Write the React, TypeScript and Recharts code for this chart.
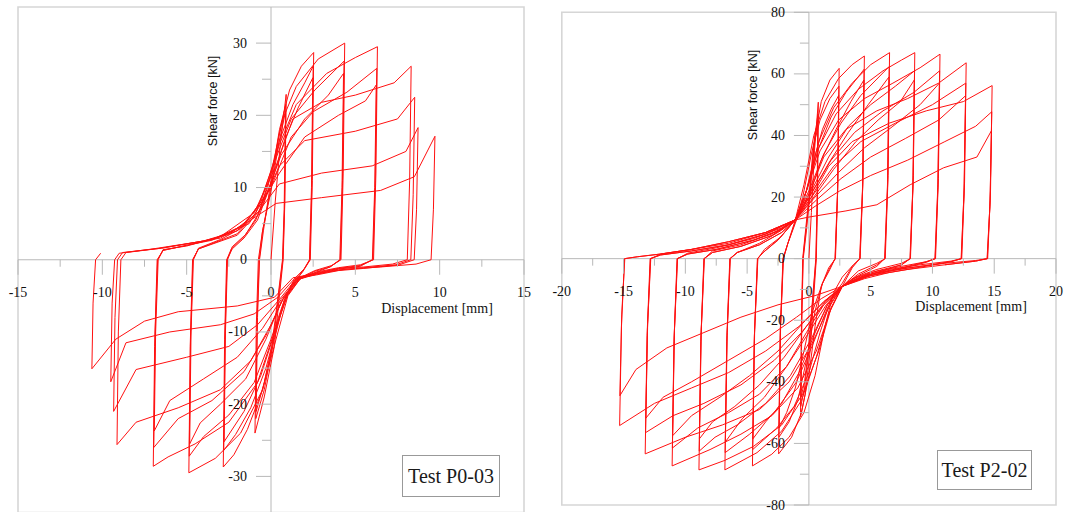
import React from 'react'
import {
  LineChart,
  Line,
  XAxis,
  YAxis,
  ReferenceLine,
  ReferenceArea,
  ReferenceDot,
} from 'recharts'

type Pt = [number, number]

// ---- Test P0-03 : displacement [mm], shear force [kN], one array per cycle ----
const p003c01: Pt[] = [[0, 0], [0.25, 8], [0.55, 16], [0.9, 22.9], [0.82, 8], [0.72, 0], [0.5, -5], [0.2, -12], [-0.4, -19], [-0.95, -24], [-0.87, -9], [-0.75, 0]]
const p003c02: Pt[] = [[-0.5, 4], [0, 10], [0.45, 17], [0.88, 21.5], [0.8, 7], [0.7, 0], [0.45, -5], [0.1, -12], [-0.4, -18], [-0.9, -22], [-0.82, -8], [-0.7, 0]]
const p003c03: Pt[] = [[-0.5, 4], [0, 9.5], [0.45, 16], [0.86, 20.5], [0.78, 7], [0.68, 0], [0.42, -5], [0.05, -12], [-0.4, -17], [-0.88, -21], [-0.8, -8], [-0.68, 0]]
const p003c04: Pt[] = [[-0.45, 4], [0, 11], [0.5, 18], [1.1, 23.5], [1.8, 26.8], [2.53, 28.7], [2.45, 11], [2.33, 0], [2, -1.2], [1.4, -2.6], [0.8, -5.5], [0.2, -11], [-0.5, -18], [-1.4, -23.5], [-2.2, -27], [-2.83, -28.7], [-2.75, -11], [-2.63, 0]]
const p003c05: Pt[] = [[-2.35, 1.5], [-1.6, 3.2], [-0.9, 5.5], [-0.2, 10], [0.5, 16.5], [1.3, 21.5], [2, 24.5], [2.5, 26.8], [2.42, 10], [2.3, 0], [1.9, -1.5], [1.2, -3.5], [0.5, -8], [-0.3, -15], [-1.2, -20.5], [-2.1, -24.2], [-2.8, -26.4], [-2.72, -10], [-2.6, 0]]
const p003c06: Pt[] = [[-2.3, 1.5], [-1.6, 3], [-0.8, 5.5], [0, 10.5], [0.8, 16.5], [1.6, 21], [2.48, 25.2], [2.4, 10], [2.28, 0], [1.9, -1.6], [1.1, -4], [0.3, -9.5], [-0.6, -16], [-1.6, -21], [-2.78, -25.2], [-2.7, -10], [-2.58, 0]]
const p003c07: Pt[] = [[-2.3, 1.8], [-1.5, 3.5], [-0.7, 6.5], [0, 12], [0.7, 19.5], [1.5, 24], [2.8, 27.8], [4.37, 30], [4.28, 12], [4.15, 0], [3.6, -0.8], [2.6, -1.5], [1.8, -2.4], [1, -5], [0.3, -11], [-0.5, -18], [-1.8, -24], [-3.3, -27.5], [-4.87, -29.5], [-4.79, -12], [-4.65, 0]]
const p003c08: Pt[] = [[-4.3, 1.5], [-3.2, 2.5], [-2, 3.6], [-0.9, 6.5], [0.2, 13.5], [1.2, 19.5], [2.6, 23.5], [4.33, 27.5], [4.24, 11], [4.11, 0], [3.5, -1], [2.6, -1.6], [1.7, -2.6], [0.8, -5.5], [0, -11], [-1, -17], [-2.5, -21.5], [-4, -24.5], [-4.85, -27.2], [-4.77, -11], [-4.63, 0]]
const p003c09: Pt[] = [[-4.3, 1.5], [-3.2, 2.4], [-2, 3.4], [-0.6, 7], [0.6, 14.5], [2, 19.5], [3.4, 22.8], [4.3, 25.8], [4.21, 10], [4.08, 0], [3.5, -1], [2.6, -1.8], [1.6, -2.8], [0.6, -5.8], [-0.3, -11], [-1.5, -16.5], [-3, -20], [-4.2, -22.6], [-4.82, -25.5], [-4.74, -10], [-4.6, 0]]
const p003c10: Pt[] = [[-4.3, 1.6], [-3, 2.8], [-1.8, 4.3], [-0.6, 8], [0.5, 16], [1.5, 21.5], [3.3, 25.8], [5, 28], [6.31, 29.5], [6.22, 12], [6.08, 0], [5.3, -0.7], [4, -1.1], [2.7, -1.7], [1.8, -2.5], [0.9, -5], [0.2, -10], [-0.8, -17], [-2.5, -22.5], [-4.5, -25.5], [-6.1, -27.3], [-6.98, -28.6], [-6.9, -12], [-6.75, 0]]
const p003c11: Pt[] = [[-6.4, 1.3], [-5, 2], [-3.5, 2.8], [-1.6, 4.8], [0, 10], [1.2, 17], [2.5, 20.5], [4.5, 23.2], [6.27, 26.5], [6.18, 11], [6.04, 0], [5.3, -0.8], [4, -1.2], [2.7, -1.9], [1.6, -2.7], [0.7, -5.5], [-0.3, -10.5], [-1.6, -15.5], [-3.5, -19.5], [-5.5, -22], [-6.95, -26], [-6.87, -10], [-6.72, 0]]
const p003c12: Pt[] = [[-6.4, 1.3], [-5, 2], [-3.5, 2.7], [-1.3, 5], [0.5, 12], [2, 17], [4, 20], [5.6, 22], [6.24, 24.2], [6.15, 10], [6.01, 0], [5.3, -0.9], [4, -1.3], [2.7, -2], [1.5, -2.8], [0.6, -5.5], [-0.5, -9.5], [-2, -13.5], [-4, -16.5], [-6, -19.5], [-6.92, -23.7], [-6.84, -10], [-6.69, 0]]
const p003c13: Pt[] = [[-6.4, 1.4], [-5, 1.9], [-3, 3.2], [-1, 6.5], [0.3, 13], [1.3, 19.5], [3, 21.8], [5, 22.8], [7.3, 24.5], [8.31, 26.8], [8.22, 11], [8.08, 0], [7.2, -0.6], [5.5, -1], [4, -1.2], [2.7, -1.8], [1.7, -2.4], [0.8, -5], [0, -9], [-1.2, -14], [-3, -18], [-5.5, -20.5], [-8, -22.5], [-9.13, -25.6], [-9.05, -10], [-8.9, 0]]
const p003c14: Pt[] = [[-8.6, 1], [-6.5, 1.6], [-4, 2.6], [-2, 4], [-0.5, 8], [0.5, 13], [2, 16.5], [5, 17.8], [7.5, 19.5], [8.52, 22.5], [8.43, 9], [8.29, 0], [7.4, -0.7], [5.5, -1.1], [4, -1.4], [2.7, -2], [1.5, -2.6], [0.5, -5.5], [-0.8, -9], [-2.5, -12], [-5, -13.5], [-8, -15.2], [-9.33, -21], [-9.25, -8], [-9.1, 0]]
const p003c15: Pt[] = [[-8.8, 1], [-6.5, 1.6], [-4, 2.6], [-2.5, 3.5], [-0.8, 6.5], [0.5, 10.5], [3, 12], [6, 13], [8, 15], [8.72, 18.3], [8.63, 7], [8.49, 0], [7.6, -0.7], [5.5, -1.2], [4, -1.5], [2.7, -2.1], [1.4, -2.6], [0.4, -5.2], [-1, -7.5], [-3, -9], [-6, -10], [-8.6, -11.5], [-9.5, -16.9], [-9.42, -6], [-9.27, 0]]
const p003c16: Pt[] = [[-9, 0.9], [-7, 1.5], [-4.5, 2.4], [-3, 3], [-1.2, 5.5], [0.3, 7.8], [3, 8.6], [6.5, 9.6], [8.5, 11.5], [9.72, 17.1], [9.63, 7], [9.49, 0], [8.6, -0.6], [6.5, -1], [4.5, -1.3], [2.7, -1.9], [1.3, -2.5], [0.2, -5.2], [-2, -6.4], [-5.5, -7.2], [-7.5, -8.5], [-9.2, -11], [-10.62, -15.1], [-10.55, -6], [-10.4, 0], [-10.1, 0.9]]

// ---- Test P2-02 ----
const p202c01: Pt[] = [[0, 0], [0.2, 15], [0.45, 35], [0.76, 50.8], [0.7, 20], [0.6, 0], [0.4, -12], [0.1, -30], [-0.3, -44], [-0.68, -51.3], [-0.6, -20], [-0.5, 0]]
const p202c02: Pt[] = [[-0.3, 8], [0, 20], [0.35, 36], [0.74, 47], [0.68, 18], [0.58, 0], [0.3, -14], [0, -30], [-0.35, -42], [-0.66, -48], [-0.58, -18], [-0.48, 0]]
const p202c03: Pt[] = [[-0.3, 7], [0.05, 20], [0.4, 36], [0.72, 45], [0.66, 18], [0.56, 0], [0.3, -13], [-0.05, -30], [-0.35, -40], [-0.64, -45], [-0.56, -17], [-0.46, 0]]
const p202c04: Pt[] = [[-0.2, 9], [0.1, 22], [0.5, 40], [1, 51], [1.7, 58], [2.45, 61.8], [2.35, 25], [2.15, 0], [1.6, -3], [1, -9], [0.5, -22], [0, -38], [-0.6, -50], [-1.4, -58], [-2.45, -63.4], [-2.33, -25], [-2.1, 0]]
const p202c05: Pt[] = [[-1.7, 5], [-1.1, 12], [-0.5, 20], [0.2, 34], [0.9, 45], [1.7, 52], [2.43, 56], [2.33, 22], [2.13, 0], [1.7, -3], [1.1, -8], [0.5, -17], [-0.2, -33], [-0.9, -46], [-1.6, -53], [-2.43, -58], [-2.31, -23], [-2.08, 0]]
const p202c06: Pt[] = [[-1.7, 5], [-1.1, 11.5], [-0.4, 19], [0.4, 32], [1.1, 42], [1.8, 48.5], [2.41, 53], [2.31, 21], [2.11, 0], [1.7, -3.5], [1.1, -8], [0.3, -17], [-0.4, -30], [-1.1, -42], [-1.8, -50], [-2.41, -55], [-2.29, -22], [-2.06, 0]]
const p202c07: Pt[] = [[-1.7, 5], [-1.1, 12.6], [-0.4, 24], [0.4, 40], [1.3, 51], [2.4, 58.5], [3.5, 63], [4.49, 65.8], [4.38, 26], [4.15, 0], [3.6, -2], [2.7, -6], [2, -11], [1.3, -22], [0.5, -38], [-0.4, -50], [-1.6, -58], [-3, -63.5], [-4.57, -67.3], [-4.43, -27], [-4.17, 0]]
const p202c08: Pt[] = [[-3.7, 2], [-2.5, 6], [-1.1, 12.6], [-0.2, 22], [0.8, 36], [1.8, 46], [3, 54], [4.47, 61.5], [4.36, 24], [4.13, 0], [3.5, -2.5], [2.7, -8], [1.8, -13], [0.9, -24], [0, -37], [-1.2, -48], [-2.6, -55], [-4.55, -62], [-4.41, -25], [-4.15, 0]]
const p202c09: Pt[] = [[-3.7, 2], [-2.4, 6.5], [-1.1, 12.6], [0, 20], [1, 32], [2.2, 42], [3.4, 51], [4.45, 58], [4.34, 23], [4.11, 0], [3.5, -3], [2.7, -9], [1.5, -15], [0.4, -25], [-0.8, -37], [-2.2, -47], [-3.5, -53], [-4.53, -58.5], [-4.39, -23], [-4.13, 0]]
const p202c10: Pt[] = [[-3.6, 3], [-2.3, 7], [-1.1, 12.6], [-0.2, 22], [0.8, 38], [2, 49], [3.5, 57], [5, 63], [6.53, 66.9], [6.41, 27], [6.18, 0], [5.5, -1.5], [4, -4], [2.7, -9], [1.6, -18], [0.6, -32], [-0.6, -46], [-2.2, -56], [-4.2, -63], [-6.8, -68.6], [-6.65, -27], [-6.4, 0]]
const p202c11: Pt[] = [[-5.8, 2], [-4, 4.5], [-2.2, 8.5], [-1.1, 12.6], [0, 22], [1.2, 34], [2.6, 44], [4.2, 53], [6.5, 62.4], [6.38, 25], [6.15, 0], [5.5, -2], [4, -5], [2.7, -9], [1.5, -16], [0.3, -28], [-1, -40], [-2.8, -50], [-4.8, -57], [-6.78, -63], [-6.63, -25], [-6.38, 0]]
const p202c12: Pt[] = [[-5.8, 2], [-4, 4.5], [-2.2, 8.5], [-1.1, 12.6], [0.2, 21], [1.6, 31], [3.2, 41], [4.8, 50], [6.48, 59], [6.36, 24], [6.13, 0], [5.5, -2.5], [4, -5.5], [2.7, -9], [1.2, -15], [-0.2, -24], [-1.8, -35], [-3.6, -45], [-5.4, -52], [-6.76, -59.5], [-6.61, -24], [-6.36, 0]]
const p202c13: Pt[] = [[-5.8, 2], [-4, 5], [-2.3, 9], [-1.1, 12.6], [-0.2, 22], [0.8, 36], [2.2, 47], [4, 55], [6, 61], [7.5, 64.5], [8.57, 66.9], [8.45, 27], [8.22, 0], [7.5, -1.5], [5.5, -3.5], [3.8, -6], [2.7, -9], [1.8, -16], [0.8, -30], [-0.5, -44], [-2.2, -54], [-4.5, -61], [-6.8, -65.5], [-8.9, -68.6], [-8.75, -27], [-8.5, 0]]
const p202c14: Pt[] = [[-7.8, 2], [-5.5, 4], [-3, 7.5], [-1.1, 12.6], [0.2, 22], [1.6, 33], [3.2, 43], [5, 50], [7, 56], [8.55, 61], [8.43, 24], [8.2, 0], [7.5, -2], [5.5, -4], [3.8, -6.5], [2.7, -9], [1.5, -15], [0.2, -26], [-1.5, -38], [-3.5, -47], [-5.8, -54], [-7.6, -58], [-8.88, -62.5], [-8.73, -25], [-8.48, 0]]
const p202c15: Pt[] = [[-7.8, 2], [-5.5, 4], [-3, 7.5], [-1.1, 12.6], [0.4, 20], [2, 29], [3.8, 38], [5.6, 45], [7.4, 51], [8.53, 58], [8.41, 23], [8.18, 0], [7.5, -2], [5.5, -4.5], [3.8, -7], [2.7, -9], [1.3, -14], [-0.2, -22], [-2, -32], [-4, -41], [-6, -48], [-7.8, -53], [-8.86, -58.5], [-8.71, -23], [-8.46, 0]]
const p202c16: Pt[] = [[-7.8, 2.5], [-5.5, 4.5], [-3, 8], [-1.1, 12.6], [-0.2, 22], [0.9, 35], [2.4, 45], [4.5, 52], [6.8, 57], [9, 62], [10.61, 66.4], [10.48, 26], [10.25, 0], [9.5, -1], [7.5, -2.5], [5, -4.5], [3.6, -6.5], [2.7, -9], [1.8, -16], [0.6, -30], [-0.9, -42], [-3, -51], [-5.5, -57], [-8, -62], [-11.07, -67.3], [-10.92, -27], [-10.67, 0]]
const p202c17: Pt[] = [[-9.8, 1.5], [-7.5, 3], [-4.5, 6], [-2.2, 9.5], [-1.1, 12.6], [0.3, 22], [1.8, 32], [3.7, 41], [6, 48], [8.5, 54], [10.58, 61], [10.45, 24], [10.22, 0], [9.5, -1], [7.5, -3], [5, -5], [3.6, -7], [2.7, -9], [1.4, -15], [0, -24], [-1.8, -35], [-4, -44], [-6.5, -50], [-9, -55], [-11.05, -61.5], [-10.9, -25], [-10.65, 0]]
const p202c18: Pt[] = [[-9.8, 1.5], [-7.5, 3], [-4.5, 6], [-2.2, 9.5], [-1.1, 12.6], [0.5, 20], [2.4, 28], [4.5, 36], [6.8, 43], [9, 50], [10.56, 57], [10.43, 23], [10.2, 0], [9.5, -1.2], [7.5, -3.2], [5, -5.5], [3.6, -7.2], [2.7, -9], [1.2, -14], [-0.5, -21], [-2.5, -30], [-4.8, -38], [-7.2, -45], [-9.5, -51], [-11.03, -57.5], [-10.88, -23], [-10.63, 0]]
const p202c19: Pt[] = [[-9.8, 1.8], [-7.5, 3.5], [-4.5, 6.5], [-2.2, 10], [-1.1, 12.6], [0, 21], [1.2, 33], [3, 42], [5.5, 48], [8, 52], [10.5, 57], [12.73, 63.6], [12.6, 25], [12.37, 0], [11.5, -0.8], [9, -2], [6.5, -3.5], [4.5, -5.5], [2.7, -9], [1.6, -16], [0.2, -28], [-1.6, -40], [-4, -49], [-7, -54], [-10, -58], [-13.25, -63.4], [-13.1, -25], [-12.85, 0]]
const p202c20: Pt[] = [[-12, 1.2], [-9.5, 2.5], [-6.5, 4.5], [-3.5, 8], [-1.1, 12.6], [0.4, 21], [2, 30], [4.2, 38], [7, 44], [10, 50], [12.7, 57], [12.57, 23], [12.34, 0], [11.5, -1], [9, -2.5], [6.5, -4], [4.5, -6], [2.7, -9], [1.2, -15], [-0.6, -24], [-2.8, -33], [-5.5, -41], [-8.5, -47], [-11, -51], [-13.22, -56.5], [-13.07, -23], [-12.82, 0]]
const p202c21: Pt[] = [[-12, 1.2], [-9.5, 2.5], [-6.5, 4.5], [-3.5, 8], [-1.1, 12.6], [0.6, 19], [2.6, 26], [5, 33], [7.8, 39], [10.5, 45], [12.68, 52.9], [12.55, 21], [12.32, 0], [11.5, -1], [9, -2.8], [6.5, -4.5], [4.5, -6.5], [2.7, -9], [1, -13], [-1, -19], [-3.5, -26], [-6.5, -33], [-9.5, -40], [-11.8, -45], [-13.2, -51.8], [-13.05, -21], [-12.8, 0]]
const p202c22: Pt[] = [[-12, 1.5], [-9.5, 3], [-6.5, 5], [-3.5, 8.5], [-1.1, 12.6], [0.2, 20], [1.6, 30], [3.5, 38], [6.5, 44], [9.5, 48], [12.5, 51], [14.83, 56.2], [14.7, 22], [14.47, 0], [13.5, -0.6], [11, -1.5], [8, -3], [5, -5], [2.7, -9], [1.2, -14], [-0.8, -22], [-3.5, -30], [-6.5, -37], [-9.5, -42], [-12.5, -47], [-15.32, -54.2], [-15.17, -22], [-14.92, 0]]
const p202c23: Pt[] = [[-13.9, 0.6], [-12, 1.5], [-9.5, 3], [-6.5, 5.5], [-3.5, 8.5], [-1.1, 12.6], [0.5, 17], [2.5, 22], [5, 27], [8, 32], [11, 38], [13.5, 43], [14.8, 47.7], [14.67, 19], [14.44, 0], [13.5, -0.8], [11, -2], [8, -3.5], [5, -5.5], [2.7, -9], [0.5, -12], [-2.5, -15], [-5.5, -19], [-8.5, -24], [-11.5, -29], [-14, -36], [-15.3, -44.5], [-15.15, -18], [-14.9, 0]]
const p202c24: Pt[] = [[-13.9, 0.6], [-12, 1.5], [-9.5, 3], [-6.5, 5.5], [-3.5, 8.5], [-1.1, 12.6], [0, 13.5], [3, 15.5], [5.5, 17.5], [8.2, 24], [10.9, 29.5], [13.6, 33], [14.78, 41.6], [14.65, 17], [14.42, 0], [13.5, -0.8], [11, -2]]

// ---- axis ticks ----
const p003XTicks = [-15, -10, -5, 0, 5, 10, 15]
const p003XMinor = [-12.5, -7.5, -2.5, 2.5, 7.5, 12.5]
const p003YTicks = [-30, -20, -10, 0, 10, 20, 30]
const p003YMinor = [-25, -15, -5, 5, 15, 25]
const p202XTicks = [-20, -15, -10, -5, 0, 5, 10, 15, 20]
const p202XMinor = [-17.5, -12.5, -7.5, -2.5, 2.5, 7.5, 12.5, 17.5]
const p202YTicks = [-80, -60, -40, -20, 0, 20, 40, 60, 80]
const p202YMinor = [-70, -50, -30, -10, 10, 30, 50, 70]

const RED = '#ff1010'
const AXIS = '#b8b8b8'
const FRAME = '#d6d6d6'
const SERIF = '"Liberation Serif", "Times New Roman", serif'
const SANS = '"Liberation Sans", Arial, sans-serif'

const toPoints = (cycles: Pt[][]) => cycles.flat().map(([x, y]) => ({ x, y }))

const p003Data = toPoints([p003c01, p003c02, p003c03, p003c04, p003c05, p003c06, p003c07, p003c08, p003c09, p003c10, p003c11, p003c12, p003c13, p003c14, p003c15, p003c16])
const p202Data = toPoints([p202c01, p202c02, p202c03, p202c04, p202c05, p202c06, p202c07, p202c08, p202c09, p202c10, p202c11, p202c12, p202c13, p202c14, p202c15, p202c16, p202c17, p202c18, p202c19, p202c20, p202c21, p202c22, p202c23, p202c24])

const xTick = (len: number, label?: string) => (p: any) => (
  <g>
    <line x1={p.cx} y1={p.cy} x2={p.cx} y2={p.cy + len} stroke={AXIS} strokeWidth={1} />
    {label !== undefined && (
      <text x={p.cx} y={p.cy + 33} textAnchor="middle" dominantBaseline="central" fontFamily={SERIF} fontSize={14} fill="#111">
        {label}
      </text>
    )}
  </g>
)

const yTick = (len: number, label?: string) => (p: any) => (
  <g>
    <line x1={p.cx} y1={p.cy} x2={p.cx - len} y2={p.cy} stroke={AXIS} strokeWidth={1} />
    {label !== undefined && (
      <text x={p.cx - 24} y={p.cy} textAnchor="end" dominantBaseline="central" fontFamily={SERIF} fontSize={14} fill="#111">
        {label}
      </text>
    )}
  </g>
)

interface PanelProps {
  data: { x: number; y: number }[]
  xMax: number
  yMax: number
  xTicks: number[]
  xMinor: number[]
  yTicks: number[]
  yMinor: number[]
  width: number
  height: number
  margin: { top: number; right: number; bottom: number; left: number }
}

function Panel({ data, xMax, yMax, xTicks, xMinor, yTicks, yMinor, width, height, margin }: PanelProps) {
  return (
    <LineChart width={width} height={height} margin={margin}>
      <XAxis dataKey="x" type="number" domain={[-xMax, xMax]} hide />
      <YAxis dataKey="y" type="number" domain={[-yMax, yMax]} hide />
      <ReferenceArea x1={-xMax} x2={xMax} y1={-yMax} y2={yMax} fill="none" stroke={FRAME} strokeWidth={1.6} />
      <ReferenceLine x={0} stroke={AXIS} />
      <ReferenceLine y={0} stroke={AXIS} />
      {xMinor.map((v) => (
        <ReferenceDot key={`xm${v}`} x={v} y={0} r={0} shape={xTick(7)} />
      ))}
      {xTicks.map((v) => (
        <ReferenceDot key={`xt${v}`} x={v} y={0} r={0} shape={xTick(15, String(v))} />
      ))}
      {yMinor.map((v) => (
        <ReferenceDot key={`ym${v}`} x={0} y={v} r={0} shape={yTick(9)} />
      ))}
      {yTicks.map((v) => (
        <ReferenceDot key={`yt${v}`} x={0} y={v} r={0} shape={yTick(15, String(v))} />
      ))}
      <Line
        data={data}
        dataKey="y"
        type="linear"
        stroke={RED}
        strokeWidth={1}
        dot={false}
        activeDot={false}
        isAnimationActive={false}
      />
    </LineChart>
  )
}

const absText = (left: number, top: number, extra: React.CSSProperties = {}): React.CSSProperties => ({
  position: 'absolute',
  left,
  top,
  whiteSpace: 'nowrap',
  color: '#111',
  ...extra,
})

const legendBox: React.CSSProperties = {
  position: 'absolute',
  border: '1px solid #999',
  background: '#fff',
  fontFamily: SERIF,
  fontSize: 20,
  color: '#1a1a1a',
  display: 'flex',
  alignItems: 'center',
  justifyContent: 'center',
  boxSizing: 'border-box',
}

export default function App() {
  return (
    <div style={{ position: 'absolute', left: 0, top: 0, width: 1067, height: 512, overflow: 'hidden', background: '#fff' }}>
      <div style={{ position: 'absolute', left: 0, top: 0 }}>
        <Panel
          data={p003Data}
          xMax={15}
          yMax={35}
          xTicks={p003XTicks}
          xMinor={p003XMinor}
          yTicks={p003YTicks}
          yMinor={p003YMinor}
          width={545}
          height={530}
          margin={{ top: 7, right: 21, bottom: 17.5, left: 18 }}
        />
      </div>
      <div style={{ position: 'absolute', left: 545, top: 0 }}>
        <Panel
          data={p202Data}
          xMax={20}
          yMax={80}
          xTicks={p202XTicks}
          xMinor={p202XMinor}
          yTicks={p202YTicks}
          yMinor={p202YMinor}
          width={522}
          height={512}
          margin={{ top: 12.3, right: 11, bottom: 7, left: 16.8 }}
        />
      </div>

      <div style={absText(213, 101, { fontFamily: SANS, fontSize: 12.5, transform: 'translate(-50%, -50%) rotate(-90deg)' })}>Shear force [kN]</div>
      <div style={absText(753, 95, { fontFamily: SANS, fontSize: 12.5, transform: 'translate(-50%, -50%) rotate(-90deg)' })}>Shear force [kN]</div>
      <div style={absText(437, 309, { fontFamily: SERIF, fontSize: 14, transform: 'translate(-50%, -50%)' })}>Displacement [mm]</div>
      <div style={absText(971, 307, { fontFamily: SERIF, fontSize: 14, transform: 'translate(-50%, -50%)' })}>Displacement [mm]</div>

      <div style={{ ...legendBox, left: 402, top: 455, width: 98, height: 42 }}>Test P0-03</div>
      <div style={{ ...legendBox, left: 937, top: 450, width: 95, height: 40 }}>Test P2-02</div>
    </div>
  )
}
